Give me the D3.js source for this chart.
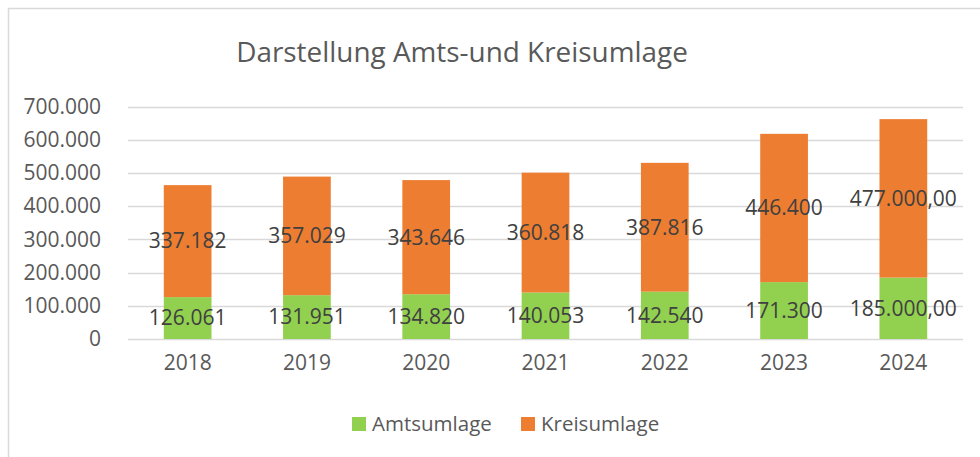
<!DOCTYPE html>
<html>
<head>
<meta charset="utf-8">
<script src="https://cdn.jsdelivr.net/npm/d3@7"></script>
<style>
  body { margin: 0; background: #fff; }
  text { font-family: "Open Sans", sans-serif; }
</style>
</head>
<body>
<div id="chart"></div>
<script>
/* Stacked bars: Amts- und Kreisumlage 2018-2024 */

const years = ["2018", "2019", "2020", "2021", "2022", "2023", "2024"];
const amtsumlage = [126061, 131951, 134820, 140053, 142540, 171300, 185000];
const kreisumlage = [337182, 357029, 343646, 360818, 387816, 446400, 477000];
const amtsLabels = ["126.061", "131.951", "134.820", "140.053", "142.540", "171.300", "185.000,00"];
const kreisLabels = ["337.182", "357.029", "343.646", "360.818", "387.816", "446.400", "477.000,00"];
const yTicks = [0, 100000, 200000, 300000, 400000, 500000, 600000, 700000];
const seriesNames = ["Amtsumlage", "Kreisumlage"];

const width = 980,
    height = 457,
    margin = ({ top: 106.5, right: 17, bottom: 118, left: 128 });

const colors = ["#92D050", "#ED7D31"];

const svg = d3.select("#chart")
    .append("svg")
    .attr("width", width)
    .attr("height", height);

// chart frame (only left/top edge visible in the crop)
svg.append("rect")
    .attr("x", 8.5)
    .attr("y", 8.5)
    .attr("width", width + 20)
    .attr("height", height + 20)
    .attr("fill", "none")
    .attr("stroke", "#d9d9d9")
    .attr("stroke-width", 1.5);

const rows = years.map((y, i) => ({ year: y, Amtsumlage: amtsumlage[i], Kreisumlage: kreisumlage[i] }));
const stacked = d3.stack().keys(seriesNames)(rows);

let x = d3.scaleBand()
    .domain(years)
    .range([margin.left, width - margin.right])
    .paddingInner(0.6)
    .paddingOuter(0.3);

let y = d3.scaleLinear()
    .domain([0, 700000])
    .range([height - margin.bottom, margin.top]);

// gridlines
svg.append("g")
    .selectAll("line")
    .data(yTicks)
    .join("line")
    .attr("x1", margin.left)
    .attr("x2", width - margin.right)
    .attr("y1", d => Math.round(y(d)) + 0.5)
    .attr("y2", d => Math.round(y(d)) + 0.5)
    .attr("stroke", "#d9d9d9")
    .attr("stroke-width", 1.5);

// y axis labels
svg.append("g")
    .attr("transform", `translate(${margin.left - 24},0)`)
    .call(d3.axisLeft(y).tickValues(yTicks).tickSize(0)
        .tickFormat(d => d3.format(",")(d).replace(/,/g, ".")))
    .call(g => g.select(".domain").remove())
    .call(g => g.selectAll("text")
        .attr("fill", "#595959")
        .style("font-size", "21px")
        .style("font-family", "'Open Sans', sans-serif"));

// x axis labels
svg.append("g")
    .attr("transform", `translate(0,${height - margin.bottom})`)
    .call(d3.axisBottom(x).tickSize(0).tickPadding(16))
    .call(g => g.select(".domain").remove())
    .call(g => g.selectAll("text")
        .attr("fill", "#595959")
        .style("font-size", "21px")
        .style("font-family", "'Open Sans', sans-serif"));

// bars
svg.append("g")
    .selectAll("g")
    .data(stacked)
    .join("g")
    .attr("fill", (d, i) => colors[i])
    .selectAll("rect")
    .data(d => d)
    .join("rect")
    .attr("x", d => x(d.data.year))
    .attr("width", x.bandwidth())
    .attr("y", d => y(d[1]))
    .attr("height", d => y(d[0]) - y(d[1]));

// value labels
const labelSets = [amtsLabels, kreisLabels];
stacked.forEach((s, k) => {
    svg.append("g")
        .selectAll("text")
        .data(s)
        .join("text")
        .attr("x", d => x(d.data.year) + x.bandwidth() / 2)
        .attr("y", d => y((d[0] + d[1]) / 2))
        .attr("dy", "0.35em")
        .attr("text-anchor", "middle")
        .attr("fill", "#404040")
        .style("font-size", "21px")
        .text((d, i) => labelSets[k][i]);
});

// title
const title = svg.append("text")
    .attr("x", 462)
    .attr("y", 52)
    .attr("dy", "0.35em")
    .attr("text-anchor", "middle")
    .attr("fill", "#595959")
    .style("font-size", "28px")
    .text("Darstellung Amts-und Kreisumlage");
const tw = title.node().getComputedTextLength();
title.style("font-size", (28 * 452 / tw).toFixed(1) + "px");

// legend
const legendX = [352, 521];
const legend = svg.append("g")
    .selectAll("g")
    .data(seriesNames)
    .join("g")
    .attr("transform", (d, i) => `translate(${legendX[i]},417)`);

legend.append("rect")
    .attr("width", 14)
    .attr("height", 14)
    .attr("fill", (d, i) => colors[i]);

legend.append("text")
    .attr("x", 20)
    .attr("y", 7)
    .attr("dy", "0.35em")
    .attr("fill", "#595959")
    .style("font-size", "20.5px")
    .text(d => d);
</script>
</body>
</html>
